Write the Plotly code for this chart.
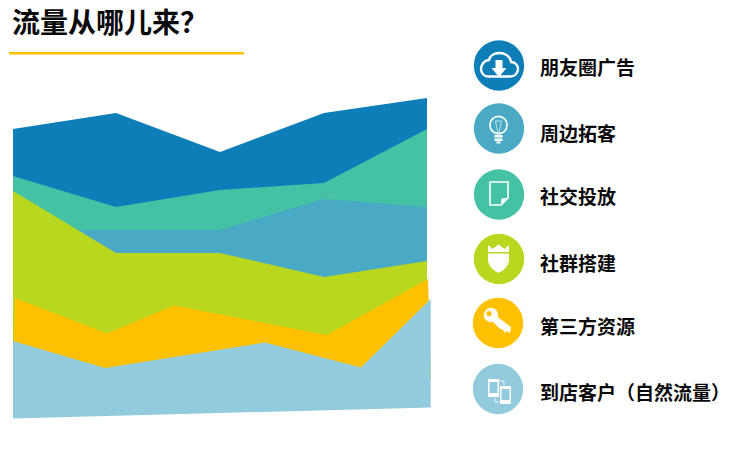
import plotly.graph_objects as go

W, H = 740, 452

names = ["朋友圈广告", "周边拓客", "社交投放", "社群搭建", "第三方资源", "到店客户（自然流量）"]
colors = ["#0E7EB8", "#4AA9C5", "#45C2A3", "#B8D71E", "#FFC000", "#93CBDE"]
title_text = "流量从哪儿来？"

# Top edge of every band
ad_x = [13, 116, 220, 324, 427]
ad_y = [323, 339, 300, 339, 354]
ad_base = [180, 180]

social_x = [13, 116, 220, 324, 427]
social_y = [276, 245, 262, 269, 323]
social_base = [180, 180]

nearby_x = [13, 116, 220, 324, 427]
nearby_y = [222, 222, 222, 253, 245]
nearby_base = [150, 150]

group_x = [13, 116, 220, 324, 427]
group_y = [261, 199, 199, 175, 191]
group_base = [60, 105]

partner_x = [15, 107, 174, 327, 428]
partner_y = [154, 118.5, 146.5, 117, 173]
partner_base = [72, 72]
partner_base_x = [431, 13]

walkin_x = [13, 105, 265, 361, 430.7]
walkin_y = [111, 84, 109.5, 84.5, 153]
walkin_base = [44.5, 33.5]


def band(x, y, base, color, base_x=None):
    bx = base_x if base_x else [x[-1], x[0]]
    return go.Scatter(
        x=x + bx + [x[0]], y=y + base + [y[0]],
        mode="lines", fill="toself", fillcolor=color,
        line=dict(width=0), hoverinfo="skip", showlegend=False,
    )


fig = go.Figure()
fig.add_trace(band(ad_x, ad_y, ad_base, colors[0]))
fig.add_trace(band(social_x, social_y, social_base, colors[2]))
fig.add_trace(band(nearby_x, nearby_y, nearby_base, colors[1]))
fig.add_trace(band(group_x, group_y, group_base, colors[3]))
fig.add_trace(band(partner_x, partner_y, partner_base, colors[4], partner_base_x))
fig.add_trace(band(walkin_x, walkin_y, walkin_base, colors[5]))


def Y(py):
    return H - py


def path(cmds):
    """Turn [('M', x, y), ('C', x1, y1, x2, y2, x, y), ('Z',)] in canvas-down units into an SVG path."""
    out = []
    for c in cmds:
        vals = list(c[1:])
        for i in range(1, len(vals), 2):
            vals[i] = Y(vals[i])
        out.append(c[0] + " ".join(str(v) for v in vals))
    return " ".join(out)


shapes = []


def add_path(cmds, fill="white", line=None, width=0):
    shapes.append(dict(type="path", xref="x", yref="y", path=path(cmds),
                       fillcolor=fill, line=dict(color=line or "rgba(0,0,0,0)", width=width), layer="above"))


def add_circle(cx, cy, r, fill="white", line=None, width=0):
    shapes.append(dict(type="circle", xref="x", yref="y", x0=cx - r, x1=cx + r, y0=Y(cy + r), y1=Y(cy - r),
                       fillcolor=fill, line=dict(color=line or "rgba(0,0,0,0)", width=width), layer="above"))


def add_rect(x0, y0, x1, y1, fill="white", line=None, width=0):
    shapes.append(dict(type="rect", xref="x", yref="y", x0=x0, x1=x1, y0=Y(y1), y1=Y(y0),
                       fillcolor=fill, line=dict(color=line or "rgba(0,0,0,0)", width=width), layer="above"))


# title rule
add_rect(9, 52, 244, 54.5, fill="#FFC000")

# legend discs
disc_cx = [499, 499, 499, 499, 498, 498]
disc_cy = [65.5, 128.5, 194.5, 259, 323, 389]
label_y = [66, 132, 195, 262, 325, 391]
for cx, cy, c in zip(disc_cx, disc_cy, colors):
    add_circle(cx, cy, 25.2, fill=c)

# cloud + arrow
add_path([("M", 488, 76.5), ("L", 510, 76.5), ("C", 515, 76.5, 518, 73, 518, 69),
          ("C", 518, 65, 515, 62, 511, 62), ("C", 510, 56, 505, 53, 499, 53),
          ("C", 494, 53, 490, 56, 489, 60), ("C", 485, 60, 481, 64, 481, 69),
          ("C", 481, 73, 484, 76.5, 488, 76.5), ("Z",)], fill="rgba(0,0,0,0)", line="white", width=2.4)
add_path([("M", 495.5, 60), ("L", 502.5, 60), ("L", 502.5, 68), ("L", 506.5, 68), ("L", 499, 77),
          ("L", 491.5, 68), ("L", 495.5, 68), ("Z",)])

# bulb
add_circle(498.5, 125, 8.6, fill="rgba(0,0,0,0)", line="white", width=1.6)
add_path([("M", 495.5, 121), ("L", 501.5, 121), ("L", 499, 133), ("L", 498, 133), ("Z",)],
         fill="rgba(0,0,0,0)", line="rgba(255,255,255,0.8)", width=0.8)
add_rect(494.5, 135, 502.5, 137.5)
add_rect(494.5, 138.5, 502.5, 141)
add_rect(496.5, 141.5, 500.5, 143.5)

# document
add_path([("M", 490, 182), ("L", 508, 182), ("L", 508, 198), ("L", 501, 205), ("L", 490, 205), ("Z",)],
         fill="rgba(0,0,0,0)", line="white", width=1.6)
add_path([("M", 501, 205), ("L", 501.5, 198.5), ("L", 508, 198), ("Z",)])

# shield
add_path([("M", 488, 245), ("L", 492.5, 249), ("L", 498.5, 244.5), ("L", 504.5, 249), ("L", 509, 245),
          ("L", 509, 252), ("L", 488, 252), ("Z",)])
add_path([("M", 488, 253.5), ("L", 509, 253.5), ("L", 509, 260), ("C", 509, 266, 503, 271, 498.5, 273),
          ("C", 494, 271, 488, 266, 488, 260), ("Z",)])

# key
add_circle(491, 315, 7.2)
add_circle(489, 313.5, 2.6, fill=colors[4])
add_path([("M", 495, 315), ("L", 511, 327), ("L", 510, 333), ("L", 506.5, 331), ("L", 505, 333),
          ("L", 502, 329), ("L", 500, 329), ("L", 492, 321), ("Z",)])

# phones
add_rect(488, 379, 499, 397)
add_rect(489.5, 382, 497.5, 393, fill=colors[5])
add_rect(500, 386, 511, 404)
add_rect(501.5, 389, 509.5, 400, fill=colors[5])
add_path([("M", 499, 381), ("L", 504, 381), ("L", 504, 385)], fill="rgba(0,0,0,0)", line="white", width=0.8)
add_path([("M", 495, 398), ("L", 495, 402), ("L", 499, 402)], fill="rgba(0,0,0,0)", line="white", width=0.8)

font = "Noto Sans CJK SC"
annotations = [dict(x=10, y=Y(21), xref="x", yref="y", text="<b>%s</b>" % title_text, showarrow=False,
                    xanchor="left", yanchor="middle", font=dict(family=font, size=28, color="#0A0A0A"))]
for t, py in zip(names, label_y):
    annotations.append(dict(x=537.5, y=Y(py), xref="x", yref="y", text="<b>%s</b>" % t, showarrow=False,
                            xanchor="left", yanchor="middle", font=dict(family=font, size=19, color="#0A0A0A")))

fig.update_layout(
    width=W, height=H, margin=dict(l=0, r=0, t=0, b=0),
    paper_bgcolor="white", plot_bgcolor="white", showlegend=False,
    xaxis=dict(range=[0, W], visible=False, fixedrange=True),
    yaxis=dict(range=[0, H], visible=False, fixedrange=True),
    shapes=shapes, annotations=annotations, hovermode=False,
)
fig.write_html("out.html", config={"displayModeBar": False},
               post_script="document.body.style.margin='0';")
